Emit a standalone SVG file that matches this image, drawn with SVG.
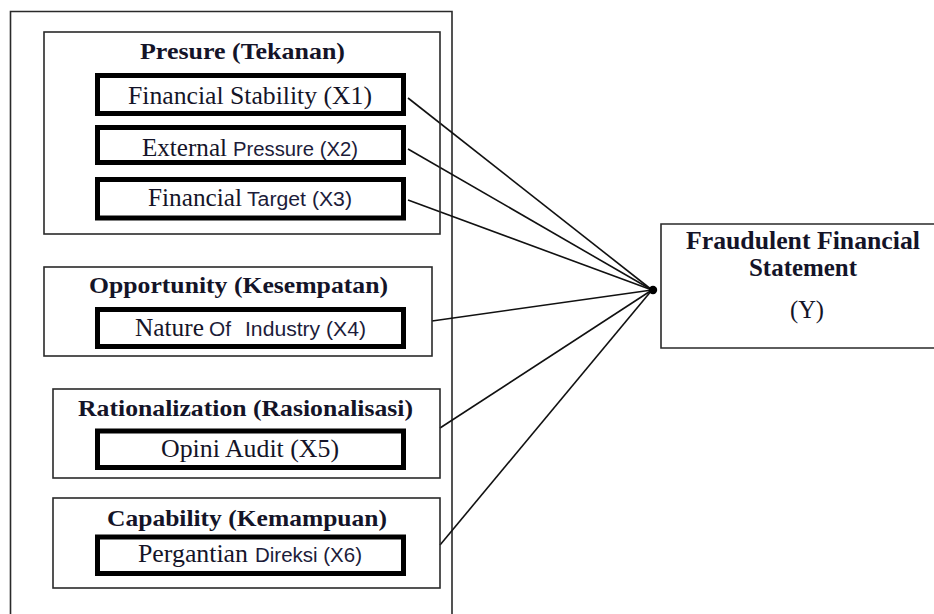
<svg xmlns="http://www.w3.org/2000/svg" width="934" height="614" viewBox="0 0 934 614">
<style>
.frame{fill:none;stroke:#2a2a2a;stroke-width:1.6}
.inner{fill:#fff;stroke:#000;stroke-width:5}
.conn{fill:none;stroke:#111;stroke-width:1.6}
.title{font-family:"Liberation Serif","Times New Roman",serif;font-weight:bold;font-size:23.5px;fill:#141428}
.serif{font-family:"Liberation Serif","Times New Roman",serif;font-size:24.5px;fill:#141428}
.sans{font-family:"Liberation Sans",Arial,sans-serif;font-size:19.5px;fill:#1c1c3a}
.ytitle{font-family:"Liberation Serif","Times New Roman",serif;font-weight:bold;font-size:24.5px;fill:#141428}
</style>
<rect width="934" height="614" fill="#fff"/>
<g id="outer-frame">
<path class="frame" d="M10.5 620 V11.5 H452 V620"/>
</g>
<g id="connectors">
<line class="conn" x1="408" y1="98" x2="652" y2="290"/>
<line class="conn" x1="408" y1="149" x2="652" y2="290"/>
<line class="conn" x1="408" y1="200" x2="652" y2="290"/>
<line class="conn" x1="432" y1="321" x2="652" y2="290"/>
<line class="conn" x1="440" y1="428" x2="652" y2="290"/>
<line class="conn" x1="440" y1="545" x2="652" y2="290"/>
<circle cx="653" cy="290" r="4.2" fill="#000"/>
</g>
<g id="pressure">
<rect class="frame" x="44" y="32" width="396" height="202"/>
<text class="title" x="140" y="59" textLength="205" lengthAdjust="spacingAndGlyphs">Presure (Tekanan)</text>
</g>
<g id="x1">
<rect class="inner" x="97.5" y="75.5" width="306" height="38"/>
<text class="serif" x="128" y="104" textLength="244" lengthAdjust="spacingAndGlyphs">Financial Stability (X1)</text>
</g>
<g id="x2">
<rect class="inner" x="97.5" y="127.5" width="306" height="35"/>
<text class="serif" x="142" y="156" textLength="85" lengthAdjust="spacingAndGlyphs">External</text>
<text class="sans" x="233" y="156" textLength="125" lengthAdjust="spacingAndGlyphs">Pressure (X2)</text>
</g>
<g id="x3">
<rect class="inner" x="97.5" y="179.5" width="306" height="38.5"/>
<text class="serif" x="148" y="206" textLength="94" lengthAdjust="spacingAndGlyphs">Financial</text>
<text class="sans" x="247" y="206" textLength="105" lengthAdjust="spacingAndGlyphs">Target (X3)</text>
</g>
<g id="opportunity">
<rect class="frame" x="44" y="267" width="388" height="89"/>
<text class="title" x="89" y="293" textLength="299" lengthAdjust="spacingAndGlyphs">Opportunity (Kesempatan)</text>
</g>
<g id="x4">
<rect class="inner" x="97.5" y="309.5" width="306" height="37"/>
<text class="serif" x="135" y="336" textLength="69" lengthAdjust="spacingAndGlyphs">Nature</text>
<text class="sans" x="209" y="336" textLength="22" lengthAdjust="spacingAndGlyphs">Of</text>
<text class="sans" x="245" y="336" textLength="121" lengthAdjust="spacingAndGlyphs">Industry (X4)</text>
</g>
<g id="rationalization">
<rect class="frame" x="53" y="389" width="387" height="89"/>
<text class="title" x="78" y="416" textLength="335" lengthAdjust="spacingAndGlyphs">Rationalization (Rasionalisasi)</text>
</g>
<g id="x5">
<rect class="inner" x="97.5" y="431" width="306" height="36.5"/>
<text class="serif" x="161" y="457" textLength="178" lengthAdjust="spacingAndGlyphs">Opini Audit (X5)</text>
</g>
<g id="capability">
<rect class="frame" x="53" y="498" width="387" height="90"/>
<text class="title" x="107" y="526" textLength="280" lengthAdjust="spacingAndGlyphs">Capability (Kemampuan)</text>
</g>
<g id="x6">
<rect class="inner" x="97.5" y="537" width="306" height="36.5"/>
<text class="serif" x="138" y="562" textLength="110" lengthAdjust="spacingAndGlyphs">Pergantian</text>
<text class="sans" x="255" y="562" textLength="107" lengthAdjust="spacingAndGlyphs">Direksi (X6)</text>
</g>
<g id="y">
<path class="frame" d="M940 224 H661 V348 H940"/>
<text class="ytitle" x="686" y="249" textLength="234" lengthAdjust="spacingAndGlyphs">Fraudulent Financial</text>
<text class="ytitle" x="749" y="276" textLength="108" lengthAdjust="spacingAndGlyphs">Statement</text>
<text class="serif" x="790" y="318" textLength="34" lengthAdjust="spacingAndGlyphs">(Y)</text>
</g>
</svg>
